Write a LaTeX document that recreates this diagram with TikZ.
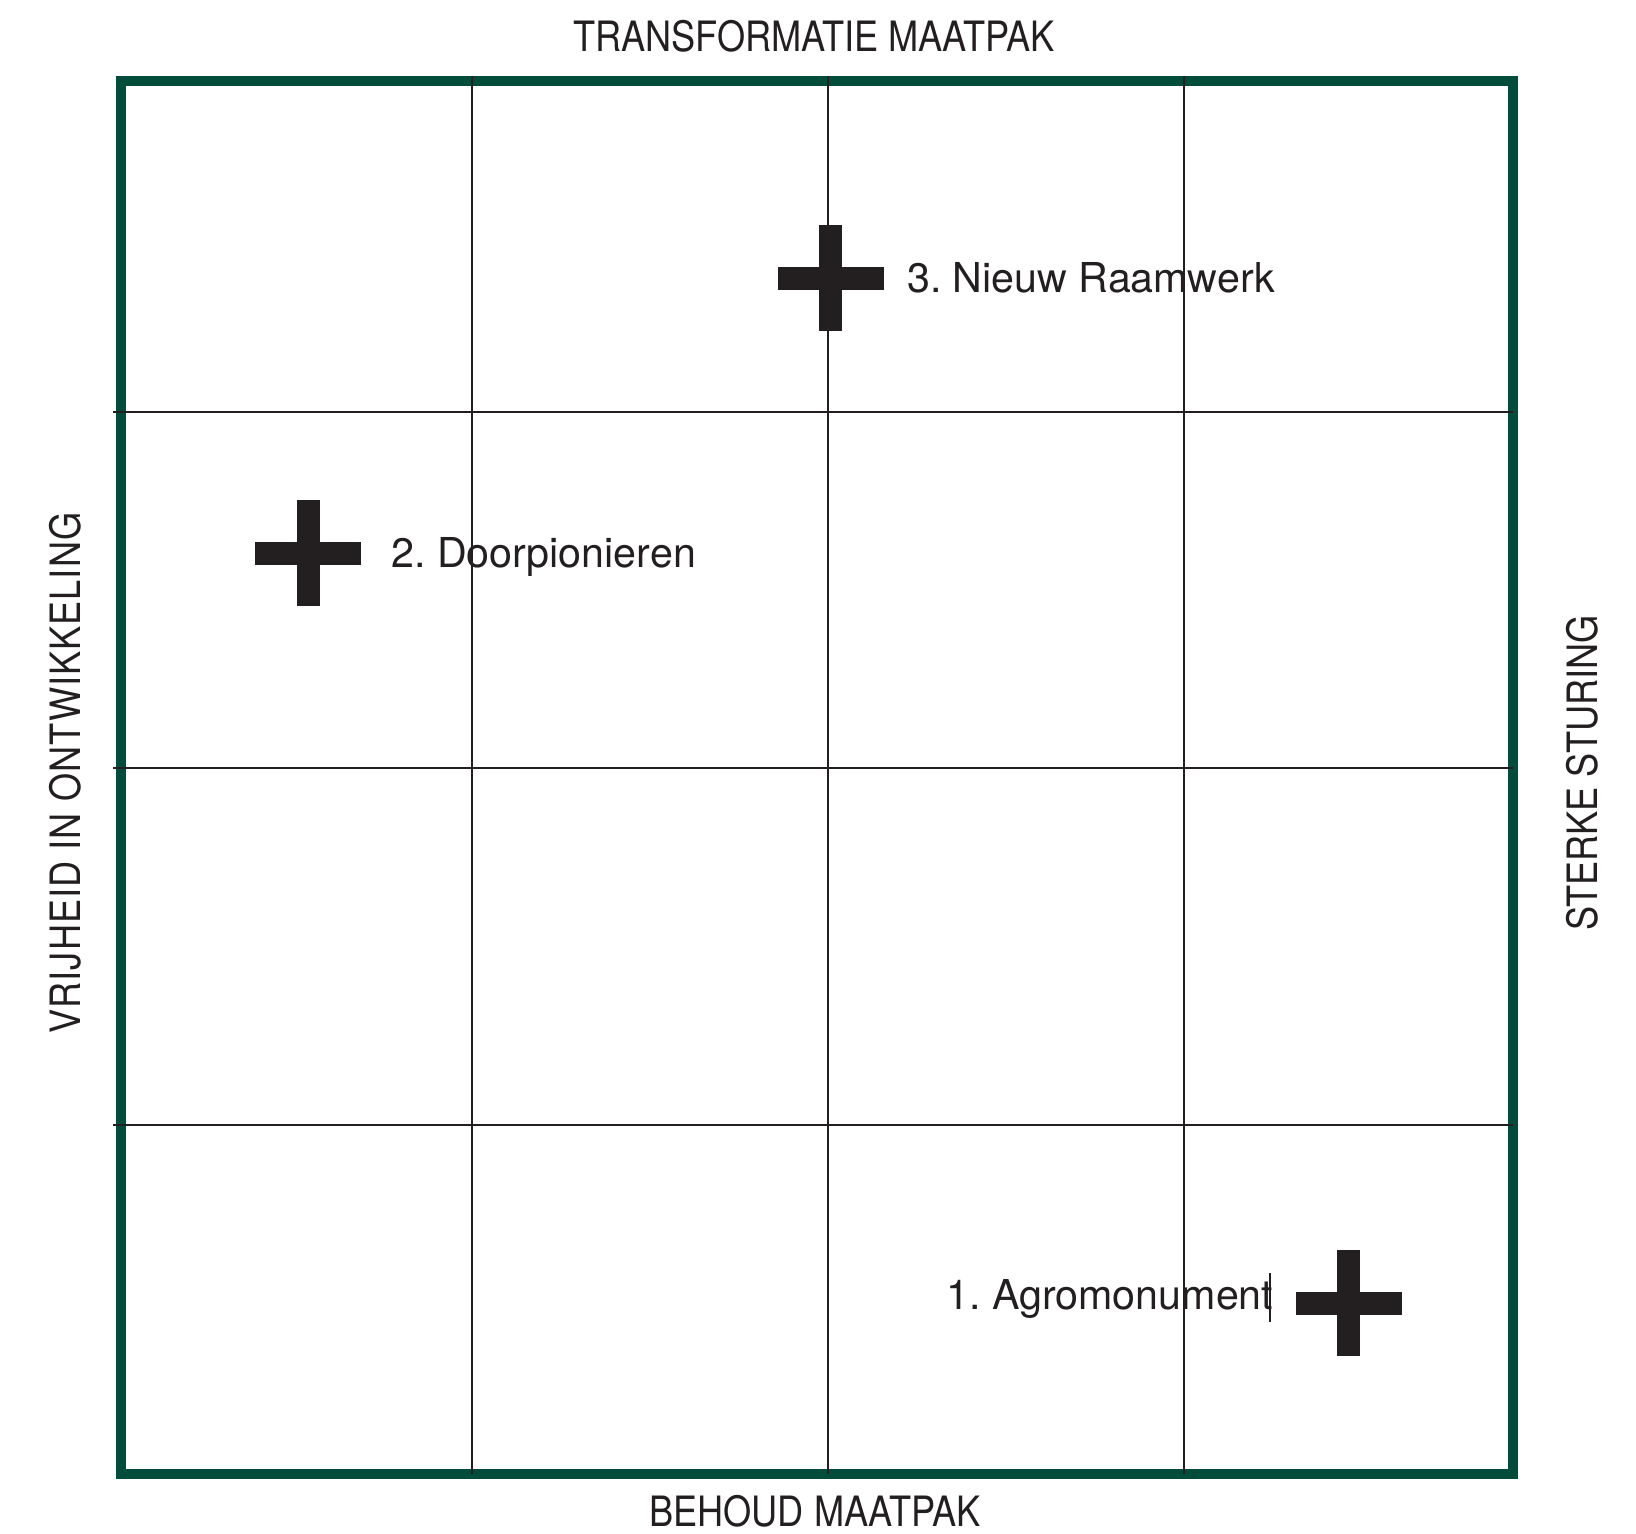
\documentclass[tikz,border=0pt]{standalone}
\usepackage{fontspec}
\setmainfont{TeX Gyre Heros}
\newfontfamily\axisfont[FakeStretch=0.865]{TeX Gyre Heros}
\definecolor{framegreen}{RGB}{2,76,60}
\definecolor{ink}{RGB}{35,31,32}
\frenchspacing
\tikzset{
  axistext/.style={font=\axisfont\fontsize{20.9}{25}\selectfont, text=ink, inner sep=0pt},
  lbl/.style={font=\fontsize{20.6}{24}\selectfont, text=ink, inner sep=0pt, anchor=base west},
  gridline/.style={draw=ink, line width=1pt},
  frameline/.style={draw=framegreen, line width=5pt},
  plusmark/.pic={
    \fill[ink] (-53,-11.5) rectangle (53,11.5);
    \fill[ink] (-11.5,-53) rectangle (11.5,53);
  }
}
\begin{document}
\begin{tikzpicture}[x=0.5pt,y=-0.5pt]
\useasboundingbox (0,0) rectangle (1636,1533);
% frame
\draw[frameline] (120.7,81) rectangle (1513.3,1473.5);
% grid
\draw[gridline] (471.7,76) -- (471.7,1474);
\draw[gridline] (828.3,76) -- (828.3,1474);
\draw[gridline] (1184.3,76) -- (1184.3,1474);
\draw[gridline] (113,411.7) -- (1513,411.7);
\draw[gridline] (113,768.3) -- (1513,768.3);
\draw[gridline] (113,1125) -- (1513,1125);
% crosses
\pic (c3) at (830.5,278.3) {plusmark};
\pic (c2) at (308,553) {plusmark};
\pic (c1) at (1348.5,1303) {plusmark};
% labels
\node[lbl] (l3) at (906.7,292.3) {3. Nieuw Raamwerk};
\node[lbl] (l2) at (391,567) {2. Doorpionieren};
\node[lbl] (l1) at (946,1309) {1. Agromonument};
\draw[ink, line width=1.2pt] (1270,1273) -- (1270,1322);
% axis titles
\node[axistext, anchor=base] (ttop) at (814,51.7) {TRANSFORMATIE MAATPAK};
\node[axistext, anchor=base] (tbot) at (815,1526) {BEHOUD MAATPAK};
\node[axistext, anchor=base, rotate=90] (tleft) at (80,773) {\addfontfeatures{LetterSpace=2.5}VRIJHEID IN ONTWIKKELING};
\node[axistext, anchor=base, rotate=90] (tright) at (1597,773) {STERKE STURING};
\end{tikzpicture}
\end{document}
